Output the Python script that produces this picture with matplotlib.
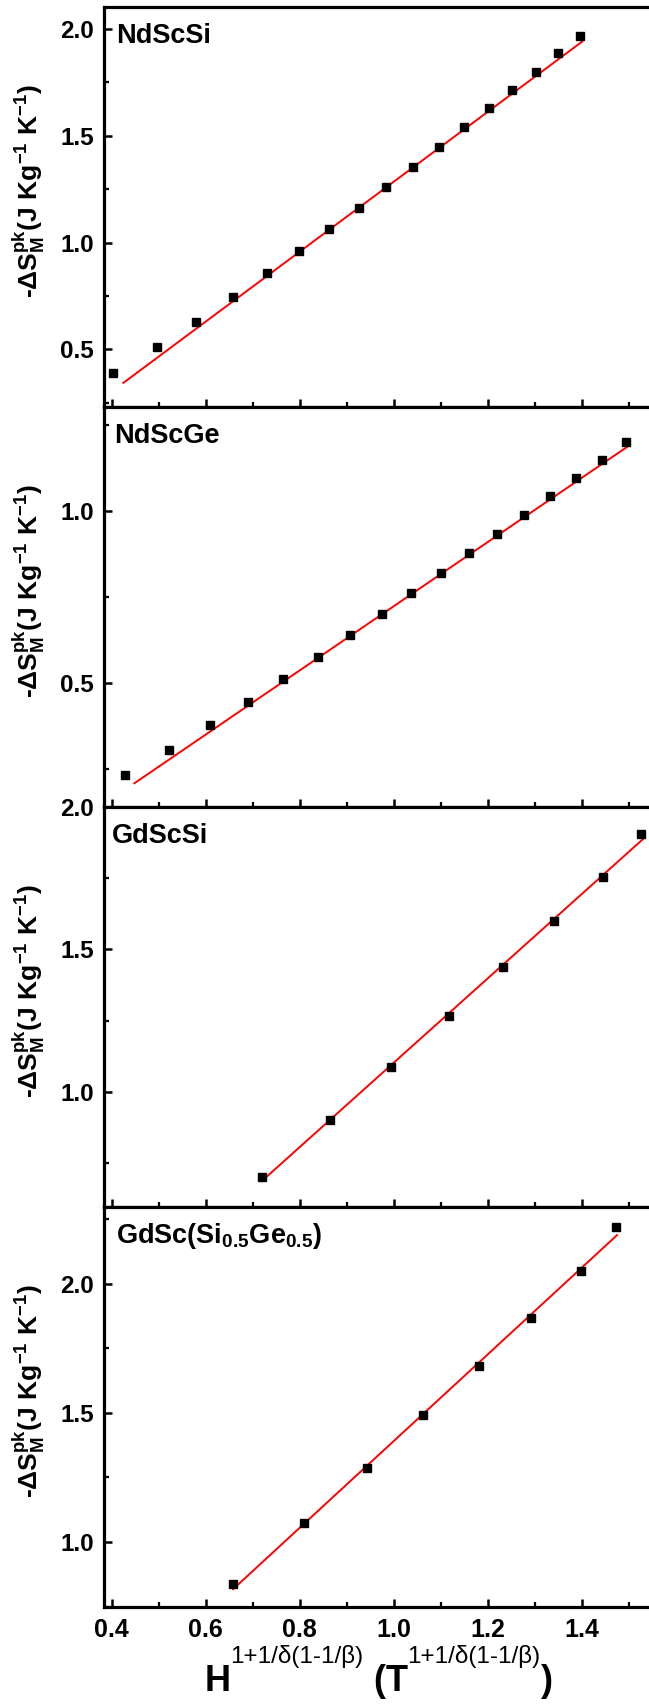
import matplotlib
matplotlib.use('Agg')
import matplotlib.pyplot as plt
from matplotlib.ticker import MultipleLocator, FormatStrFormatter
import numpy as np

plt.rcParams['font.family'] = ['Liberation Sans', 'DejaVu Sans']
plt.rcParams['font.weight'] = 'bold'
plt.rcParams['axes.labelweight'] = 'bold'
plt.rcParams['mathtext.fontset'] = 'custom'
plt.rcParams['mathtext.rm'] = 'Liberation Sans'
plt.rcParams['mathtext.bf'] = 'Liberation Sans:bold'
plt.rcParams['mathtext.it'] = 'Liberation Sans:italic'

# data
names = ['NdScSi', 'NdScGe', 'GdScSi', r'GdSc(Si$_{\mathbf{0.5}}$Ge$_{\mathbf{0.5}}$)']

ndscsi_x = [0.402, 0.496, 0.580, 0.658, 0.730, 0.798, 0.863, 0.925, 0.984,
            1.040, 1.096, 1.149, 1.202, 1.252, 1.302, 1.350, 1.397]
ndscsi_y = [0.388, 0.509, 0.629, 0.745, 0.856, 0.962, 1.065, 1.164, 1.260,
            1.356, 1.448, 1.542, 1.628, 1.716, 1.800, 1.886, 1.968]

ndscge_x = [0.427, 0.522, 0.609, 0.690, 0.765, 0.838, 0.907, 0.974, 1.037,
            1.100, 1.160, 1.220, 1.277, 1.333, 1.387, 1.442, 1.494]
ndscge_y = [0.232, 0.305, 0.376, 0.444, 0.511, 0.576, 0.638, 0.700, 0.760,
            0.818, 0.876, 0.932, 0.987, 1.042, 1.094, 1.147, 1.199]

gdscsi_x = [0.719, 0.864, 0.993, 1.117, 1.232, 1.341, 1.445, 1.526]
gdscsi_y = [0.700, 0.900, 1.086, 1.267, 1.437, 1.598, 1.754, 1.904]

gdscsige_x = [0.657, 0.809, 0.943, 1.063, 1.181, 1.291, 1.398, 1.473]
gdscsige_y = [0.837, 1.072, 1.288, 1.491, 1.682, 1.868, 2.047, 2.219]

# linear fits (slope, intercept, x range)
fit_slope = [1.637, 0.932, 1.481, 1.676]
fit_icpt = [-0.352, -0.2096, -0.379, -0.285]
fit_x0 = [0.4245, 0.448, 0.719, 0.658]
fit_x1 = [1.401, 1.498, 1.530, 1.475]

ylims = [(0.23, 2.103), (0.139, 1.301), (0.595, 2.0), (0.749, 2.296)]

xs = [ndscsi_x, ndscge_x, gdscsi_x, gdscsige_x]
ys = [ndscsi_y, ndscge_y, gdscsi_y, gdscsige_y]

W, H = 649, 1704
fig = plt.figure(figsize=(W / 100, H / 100), dpi=100)

panel_top = [7, 407, 807, 1207]
panel_h = 400
left = 103.5
label_dx = [13, 10.5, 8.5, 13]

for i in range(4):
    b = 1 - (panel_top[i] + panel_h) / H
    ax = fig.add_axes([left / W, b, 1 - left / W, panel_h / H])

    xf = np.array([fit_x0[i], fit_x1[i]])
    ax.plot(xf, fit_slope[i] * xf + fit_icpt[i], color='#ff0000', lw=1.4, zorder=2)
    ax.plot(xs[i], ys[i], 's', color='black', ms=5.6, zorder=3)

    ax.set_xlim(0.3823, 1.543)
    ax.set_ylim(*ylims[i])
    ax.xaxis.set_major_locator(MultipleLocator(0.2))
    ax.xaxis.set_minor_locator(MultipleLocator(0.1))
    ax.yaxis.set_major_locator(MultipleLocator(0.5))
    ax.yaxis.set_minor_locator(MultipleLocator(0.25))
    ax.yaxis.set_major_formatter(FormatStrFormatter('%.1f'))
    ax.xaxis.set_major_formatter(FormatStrFormatter('%.1f'))

    ax.spines['right'].set_visible(False)
    for s in ['left', 'top', 'bottom']:
        ax.spines[s].set_linewidth(2.3)
    ax.tick_params(which='both', direction='in', top=False, right=False)
    ax.tick_params(which='major', length=6, width=1.8)
    ax.tick_params(which='minor', length=3.5, width=1.6)
    ax.tick_params(axis='y', labelsize=17.5, pad=7)
    ax.tick_params(axis='x', labelsize=18, pad=8, labelbottom=(i == 3))

    ax.set_ylabel(r'-$\mathrm{Δ}\mathbf{S}^{\mathbf{pk}}_{\mathbf{M}}$(J Kg$^{\mathbf{-1}}$ K$^{\mathbf{-1}}$)',
                  fontsize=19)
    ax.yaxis.set_label_coords(-0.1036, 0.54)

    ax.annotate(names[i], xy=(0, 1), xycoords='axes fraction',
                xytext=(label_dx[i], -36), textcoords='offset pixels',
                ha='left', va='baseline', fontsize=19.5)

# x label built from pieces so the superscripts stay plain text
sup = '1+1/δ(1-1/β)'
runs = [('H', 26, 'bold', 0), (sup, 17.5, 'normal', 28), (' (', 26, 'bold', 0),
        ('T', 26, 'bold', 0), (sup, 17.5, 'normal', 28), (')', 26, 'bold', 0)]
base_y = 13
renderer = fig.canvas.get_renderer()
texts = []
x = 0
for s, fs, fw, dy in runs:
    t = fig.text(0, 0, s, fontsize=fs, fontweight=fw, ha='left', va='baseline')
    w = t.get_window_extent(renderer).width
    texts.append((t, x, dy))
    x += w
total = x
ax_right = left + (1.5526 - 0.3823) / (1.543 - 0.3823) * (W - left)
x_start = (left + ax_right) / 2 - total / 2
for t, x0, dy in texts:
    t.set_position(((x_start + x0) / W, (base_y + dy) / H))

fig.savefig('out.png', dpi=100)
